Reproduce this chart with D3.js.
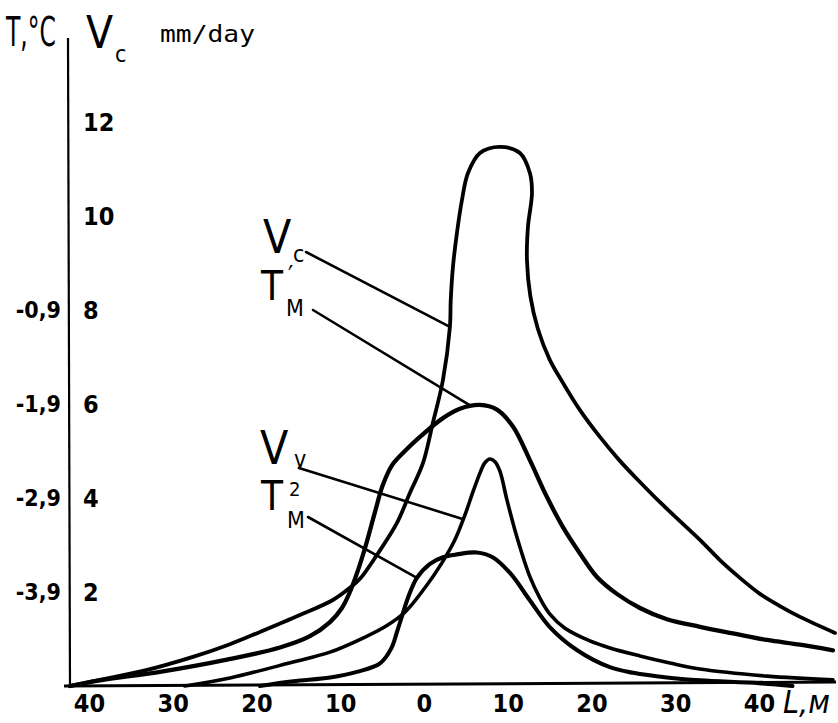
<!DOCTYPE html>
<html>
<head>
<meta charset="utf-8">
<script src="https://cdn.jsdelivr.net/npm/d3@7"></script>
<style>
  body { margin: 0; background: #fff; }
  svg { display: block; }
</style>
</head>
<body>
<svg id="chart" width="838" height="723"></svg>
<script>
// Distance along the profile (m), left and right of the centre
const distanceTicks = [-40, -30, -20, -10, 0, 10, 20, 30, 40];
// Rate scale, mm/day
const rateTicks = [2, 4, 6, 8, 10, 12];
// Temperature scale, °C
const tempTicks = [-3.9, -2.9, -1.9, -0.9];

// Vc, mm/day : [L, V]
const vcCurve = [
  [-42.27, 0], [-38.69, 0.13], [-33.55, 0.32], [-27.58, 0.62], [-23.16, 0.89],
  [-19.58, 1.15], [-14.81, 1.51], [-10.87, 1.83], [-8.84, 2.09], [-7.64, 2.28],
  [-5.61, 2.79], [-3.22, 3.47], [-1.67, 4.11], [-0.12, 4.74], [1.07, 5.60],
  [2.27, 6.51], [3.10, 7.64], [3.2, 8.21], [3.46, 8.91], [3.94, 9.64],
  [4.54, 10.34], [5.25, 10.91], [6.69, 11.34], [9.07, 11.47], [11.46, 11.34],
  [12.66, 10.91], [12.9, 10.49], [12.42, 9.77], [12.3, 9.06], [12.7, 8.30],
  [13.6, 7.60], [15.0, 6.95], [16.6, 6.45], [18.63, 5.87], [21.01, 5.30],
  [23.40, 4.79], [25.79, 4.34], [28.18, 3.91], [30.57, 3.51], [32.96, 3.11],
  [35.34, 2.68], [37.73, 2.30], [40.12, 1.96], [42.51, 1.70], [44.90, 1.47],
  [49.08, 1.13]
];

// Vv, mm/day : [L, V]
const vvCurve = [
  [-28.54, 0], [-23.16, 0.17], [-15.64, 0.51], [-11.22, 0.72], [-7.28, 1.02],
  [-4.66, 1.26], [-2.27, 1.57], [0.12, 2.09], [2.15, 2.62], [3.70, 3.11],
  [4.90, 3.64], [5.85, 4.13], [6.69, 4.53], [7.28, 4.75], [7.88, 4.83],
  [8.48, 4.77], [9.07, 4.57], [9.91, 3.96], [11.10, 3.17], [12.66, 2.32],
  [13.85, 1.87], [15.04, 1.53], [16.84, 1.23], [19.82, 0.96], [22.21, 0.81],
  [25.79, 0.64], [29.37, 0.49], [32.96, 0.36], [40.96, 0.21], [48.84, 0.13]
];

// T¹M, °C : [L, T]
const tm1Curve = [
  [-42.27, -4.90], [-38.69, -4.84], [-31.52, -4.75], [-23.52, -4.62], [-17.19, -4.49],
  [-13.61, -4.37], [-11.22, -4.22], [-9.79, -4.07], [-8.84, -3.90], [-7.88, -3.67],
  [-6.93, -3.40], [-5.85, -3.05], [-4.90, -2.76], [-3.80, -2.55], [-2.27, -2.40],
  [-0.48, -2.25], [2.27, -2.05], [4.30, -1.95], [6.69, -1.91], [8.72, -1.96],
  [10.63, -2.14], [12.66, -2.50], [14.69, -2.89], [16.6, -3.21], [18.63, -3.49],
  [20.66, -3.74], [23.04, -3.92], [25.79, -4.07], [29.01, -4.19], [32.96, -4.27],
  [36.9, -4.34], [40.96, -4.41], [44.9, -4.46], [48.84, -4.52]
];

// T²M, °C : [L, T]
const tm2Curve = [
  [-19.6, -4.90], [-15.6, -4.85], [-11.2, -4.81], [-8.0, -4.75], [-5.25, -4.66],
  [-3.9, -4.50], [-3.2, -4.32], [-2.6, -4.15], [-1.9, -3.96], [-0.84, -3.75],
  [0.72, -3.60], [2.27, -3.53], [3.94, -3.50], [6.3, -3.48], [8.2, -3.53],
  [10.3, -3.70], [12.66, -3.99], [15.0, -4.27], [18.3, -4.52], [22.2, -4.70],
  [25.0, -4.76], [29.0, -4.81], [33.0, -4.84], [40.0, -4.87], [44.0, -4.90]
];

const svg = d3.select("#chart");
const ink = "#000";
const tickFont = "'Liberation Sans Narrow', 'DejaVu Sans Condensed', sans-serif";

// Scales: one horizontal distance scale, two vertical scales sharing the same frame
const x = d3.scaleLinear().domain([-42.5, 49.5]).range([68, 838.5]);
const yV = d3.scaleLinear().domain([0, 12]).range([686, 122]);
const yT = d3.scaleLinear().domain([-4.9, 1.1]).range([686, 122]);

// Frame: vertical axis and baseline
svg.append("line")
  .attr("x1", x(-42.5)).attr("x2", x(-42.5) + 2)
  .attr("y1", 38).attr("y2", yV(0) + 2)
  .attr("stroke", ink).attr("stroke-width", 2.2);
svg.append("line")
  .attr("x1", x(-42.5) - 4).attr("x2", x(49.2))
  .attr("y1", yV(0)).attr("y2", yV(0) - 4)
  .attr("stroke", ink).attr("stroke-width", 3);

function styleAxis(g, size) {
  g.select(".domain").remove();
  g.selectAll("text")
    .attr("fill", ink)
    .attr("font-family", tickFont)
    .attr("font-weight", "bold")
    .attr("font-size", size);
}

// Distance labels (absolute values on both sides)
svg.append("g")
  .attr("transform", `translate(0,${yV(0)})`)
  .call(d3.axisBottom(x).tickValues(distanceTicks).tickSize(0).tickPadding(8)
    .tickFormat(d => Math.abs(d)))
  .call(g => styleAxis(g, 25));

// Rate labels to the right of the axis line
svg.append("g")
  .attr("transform", `translate(${x(-42.5) + 11},0)`)
  .call(d3.axisRight(yV).tickValues(rateTicks).tickSize(0).tickPadding(4))
  .call(g => styleAxis(g, 25));

// Temperature labels to the left of the axis line
svg.append("g")
  .attr("transform", `translate(${x(-42.5) - 7},0)`)
  .call(d3.axisLeft(yT).tickValues(tempTicks).tickSize(0).tickPadding(0)
    .tickFormat(d => d.toFixed(1).replace(".", ",")))
  .call(g => styleAxis(g, 23));

// Curves
const lineV = d3.line().x(d => x(d[0])).y(d => yV(d[1])).curve(d3.curveCatmullRom.alpha(0.5));
const lineT = d3.line().x(d => x(d[0])).y(d => yT(d[1])).curve(d3.curveCatmullRom.alpha(0.5));

const curves = [
  { data: vcCurve, gen: lineV, w: 3.8 },
  { data: tm1Curve, gen: lineT, w: 4.3 },
  { data: vvCurve, gen: lineV, w: 3.6 },
  { data: tm2Curve, gen: lineT, w: 4.1 }
];
svg.append("g").selectAll("path").data(curves).join("path")
  .attr("d", c => c.gen(c.data))
  .attr("fill", "none")
  .attr("stroke", ink)
  .attr("stroke-width", c => c.w)
  .attr("stroke-linejoin", "round")
  .attr("stroke-linecap", "round");

// Curve labels with leader lines to the curves
const labelFont = "'Liberation Sans Narrow', 'DejaVu Sans Condensed', sans-serif";
const labels = [
  { main: "V", sub: "c", sup: null, tx: 263, ty: 253, sx: 293, sy: 262, lx: 306, ly: 252, to: [3.1, 7.64], scale: yV },
  { main: "T", sub: "M", sup: "\u2032", tx: 261, ty: 300, sx: 286, sy: 316, lx: 313, ly: 310, to: [5.6, -1.92], scale: yT },
  { main: "V", sub: "v", sup: null, tx: 260, ty: 464, sx: 294, sy: 467, lx: 299, ly: 468, to: [4.7, 3.55], scale: yV },
  { main: "T", sub: "M", sup: "2", tx: 261, ty: 510, sx: 287, sy: 528, lx: 308, ly: 517, to: [-0.84, -3.75], scale: yT }
];
const lg = svg.append("g");
labels.forEach(l => {
  lg.append("text").attr("x", l.tx).attr("y", l.ty)
    .attr("font-family", labelFont).attr("font-size", l.main === "V" ? 46 : 40)
    .attr("fill", ink).text(l.main);
  lg.append("text").attr("x", l.sx).attr("y", l.sy)
    .attr("font-family", labelFont).attr("font-size", 23)
    .attr("fill", ink).text(l.sub);
  if (l.sup) {
    const isPrime = l.sup === "\u2032";
    lg.append("text").attr("x", l.sx + 2).attr("y", isPrime ? l.ty - 15 : l.ty - 14)
      .attr("font-family", labelFont).attr("font-size", isPrime ? 26 : 20)
      .attr("fill", ink).text(l.sup);
  }
  lg.append("line")
    .attr("x1", l.lx).attr("y1", l.ly)
    .attr("x2", x(l.to[0])).attr("y2", l.scale(l.to[1]))
    .attr("stroke", ink).attr("stroke-width", 2.6).attr("stroke-linecap", "round");
});

// Axis titles
svg.append("text").attr("x", 6).attr("y", 46)
  .attr("font-family", labelFont).attr("font-size", 40)
  .attr("textLength", 50).attr("lengthAdjust", "spacingAndGlyphs")
  .attr("fill", ink).text("T,°C");
svg.append("text").attr("x", 86).attr("y", 48)
  .attr("font-family", labelFont).attr("font-size", 44)
  .attr("fill", ink).text("V");
svg.append("text").attr("x", 115).attr("y", 62)
  .attr("font-family", labelFont).attr("font-size", 23)
  .attr("fill", ink).text("c");
svg.append("text").attr("x", 160).attr("y", 42)
  .attr("font-family", "'DejaVu Sans Mono', monospace").attr("font-size", 23)
  .attr("textLength", 95).attr("lengthAdjust", "spacingAndGlyphs")
  .attr("fill", ink).text("mm/day");
svg.append("text").attr("x", 783).attr("y", 713)
  .attr("font-family", labelFont).attr("font-size", 32)
  .attr("font-style", "italic")
  .attr("fill", ink).text("L,м");
</script>
</body>
</html>
